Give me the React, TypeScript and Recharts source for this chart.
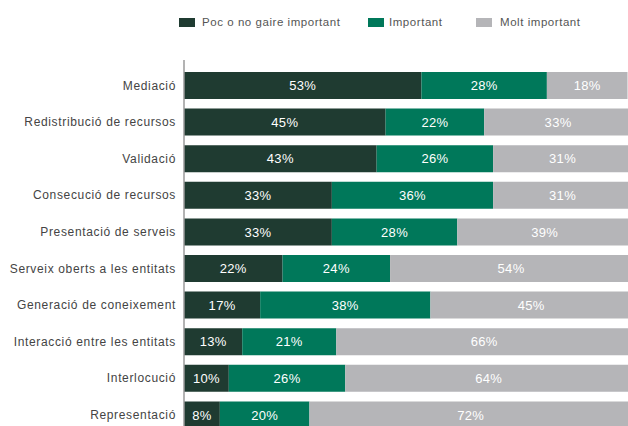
import { BarChart, Bar, XAxis, YAxis, LabelList } from "recharts"

const categories = [
    "Mediació",
    "Redistribució de recursos",
    "Validació",
    "Consecució de recursos",
    "Presentació de serveis",
    "Serveix oberts a les entitats",
    "Generació de coneixement",
    "Interacció entre les entitats",
    "Interlocució",
    "Representació",
]
const pocValues = [53, 45, 43, 33, 33, 22, 17, 13, 10, 8]
const importantValues = [28, 22, 26, 36, 28, 24, 38, 21, 26, 20]
const moltValues = [18, 33, 31, 31, 39, 54, 45, 66, 64, 72]

const seriesNames = ["Poc o no gaire important", "Important", "Molt important"]
const colors = ["#1f3b31", "#00785a", "#b5b5b8"]

const data = categories.map((name, i) => ({
    name,
    poc: pocValues[i],
    important: importantValues[i],
    molt: moltValues[i],
}))

const font = "'Liberation Sans', Arial, sans-serif"

const Legend = () => {
    const items = [
        { x: 179, tx: 202 },
        { x: 368, tx: 389 },
        { x: 476, tx: 500 },
    ]
    return (
        <div style={{ position: "absolute", left: 0, top: 0, width: 628, height: 40 }}>
            {items.map((it, i) => (
                <div key={i}>
                    <div style={{ position: "absolute", left: it.x, top: 18, width: 16, height: 9, background: colors[i] }} />
                    <div style={{ position: "absolute", left: it.tx, top: 15, fontFamily: font, fontSize: 11.5, letterSpacing: 0.55, color: "#555", whiteSpace: "nowrap", lineHeight: "14px" }}>
                        {seriesNames[i]}
                    </div>
                </div>
            ))}
        </div>
    )
}

const fmt = (v: any) => `${v}%`

export default function App() {
    return (
        <div style={{ position: "absolute", left: 0, top: 0, width: 628, height: 426, overflow: "hidden", background: "#fff" }}>
            <Legend />
            <BarChart
                width={632}
                height={440}
                data={data}
                layout="vertical"
                margin={{ top: 60, right: 0, left: 0, bottom: 7 }}
                style={{ fontFamily: font }}
            >
                <XAxis type="number" domain={[0, 100]} hide />
                <YAxis
                    type="category"
                    dataKey="name"
                    width={184}
                    padding={{ top: 7, bottom: 0 }}
                    axisLine={{ stroke: "#9a9a9a", strokeWidth: 1.5 }}
                    tickLine={false}
                    tick={{ fill: "#444", fontSize: 12, letterSpacing: 0.65 }}
                />
                <Bar dataKey="poc" stackId="a" fill={colors[0]} barSize={27} isAnimationActive={false}>
                    <LabelList dataKey="poc" position="center" formatter={fmt} fill="#fff" fontSize={13} letterSpacing={0.3} />
                </Bar>
                <Bar dataKey="important" stackId="a" fill={colors[1]} barSize={27} isAnimationActive={false}>
                    <LabelList dataKey="important" position="center" formatter={fmt} fill="#fff" fontSize={13} letterSpacing={0.3} />
                </Bar>
                <Bar dataKey="molt" stackId="a" fill={colors[2]} barSize={27} isAnimationActive={false}>
                    <LabelList dataKey="molt" position="center" formatter={fmt} fill="#fff" fontSize={13} letterSpacing={0.3} />
                </Bar>
            </BarChart>
        </div>
    )
}
